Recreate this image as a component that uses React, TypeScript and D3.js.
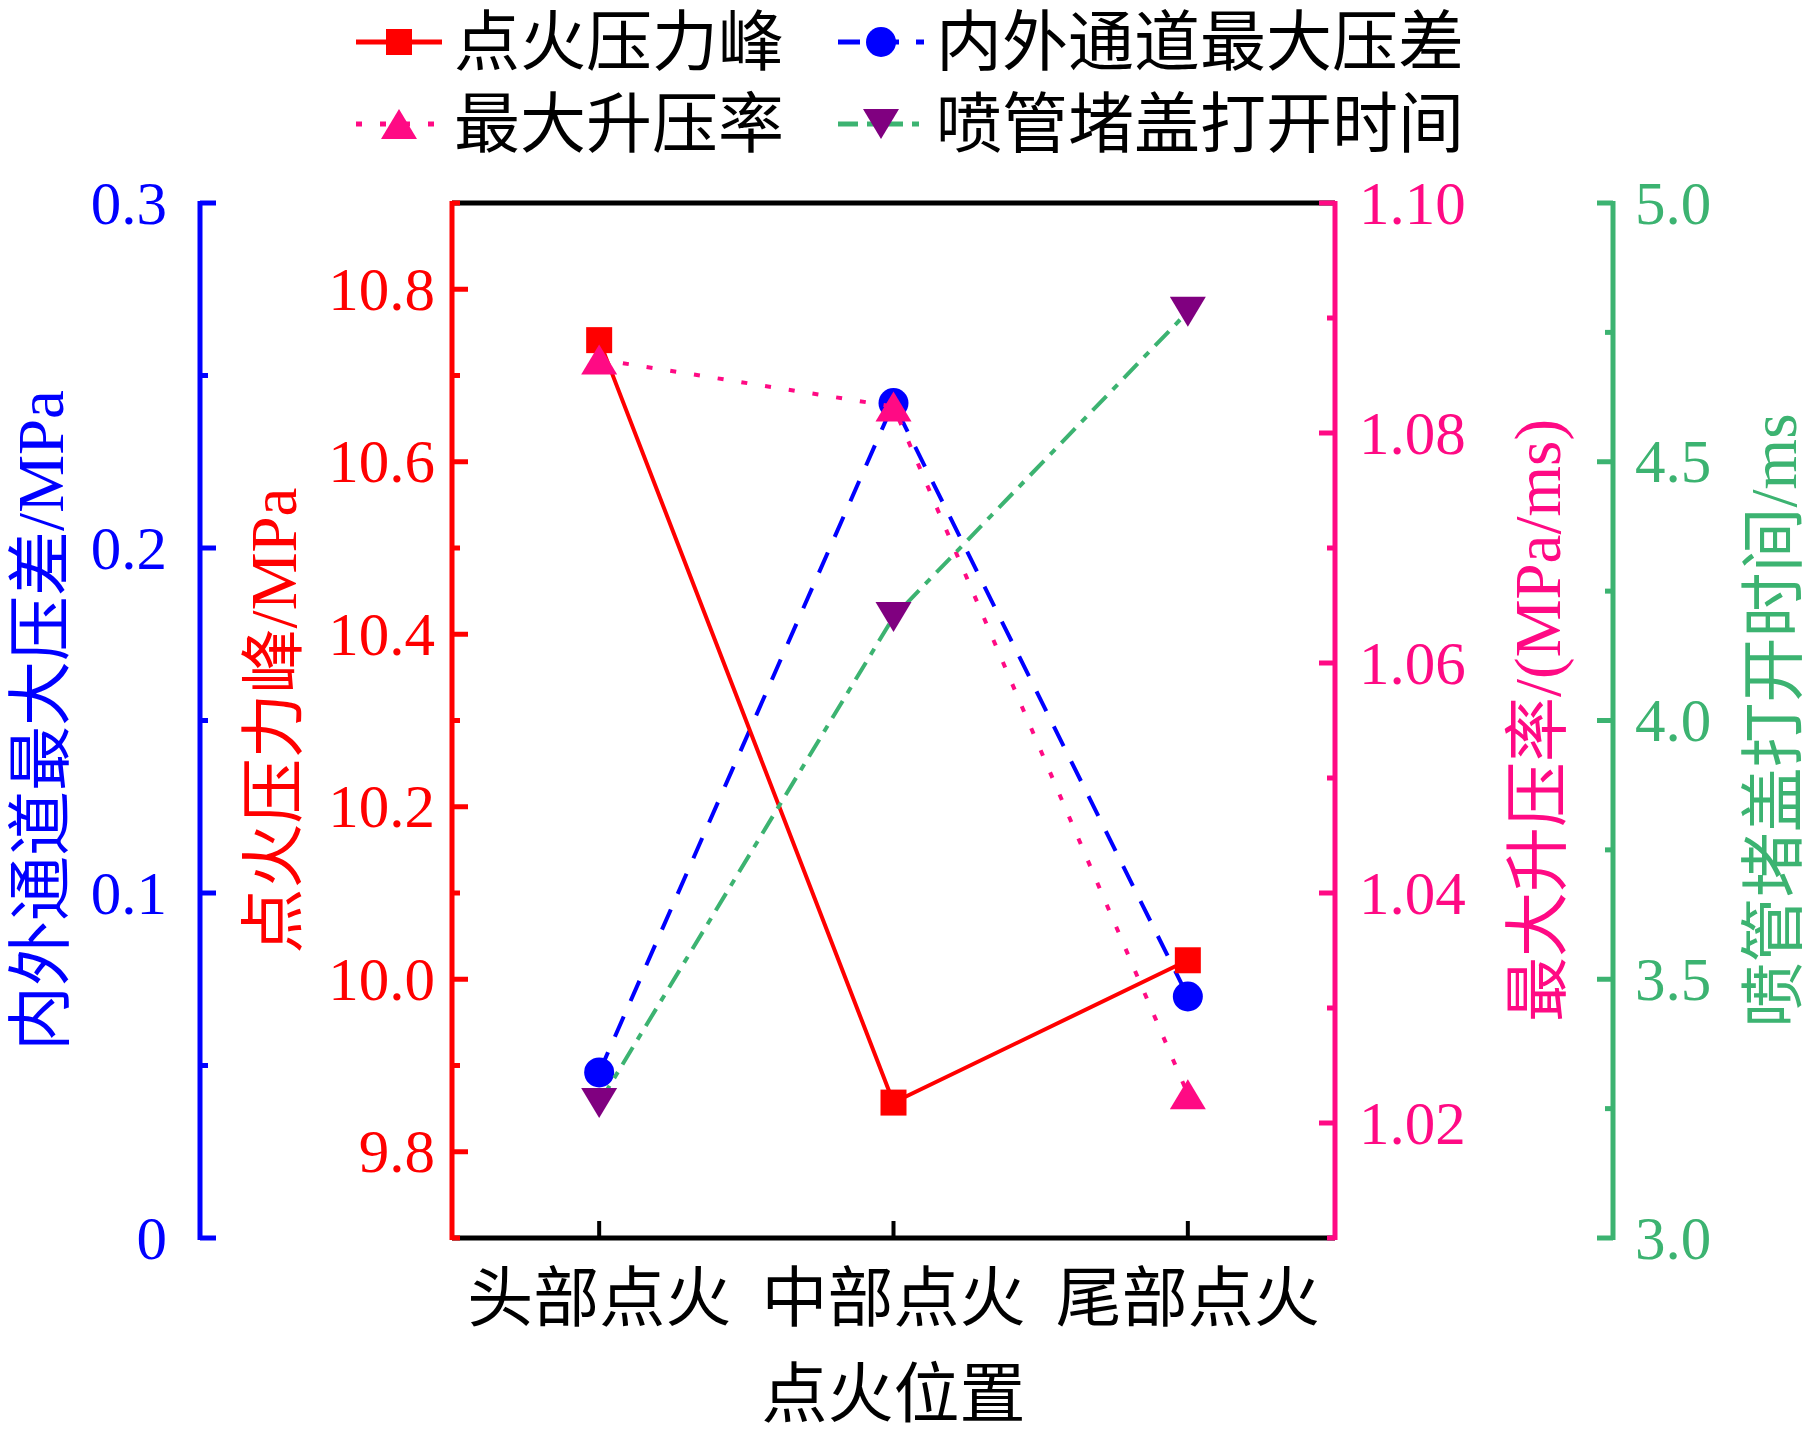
import * as d3 from 'd3';

const W = 1819;
const H = 1441;
const left = 452;
const right = 1335;
const top = 203;
const bottom = 1238;
const blueAxisX = 200;
const greenAxisX = 1613;

// data
const categories = ['头部点火', '中部点火', '尾部点火'];
const peakPressure = [10.741, 9.857, 10.022];
const maxDiff = [0.048, 0.242, 0.07];
const maxRate = [1.0864, 1.0823, 1.0225];
const openTime = [3.261, 4.2, 4.79];

// axis ticks
const diffTicks = [0, 0.1, 0.2, 0.3];
const diffMinor = [0.05, 0.15, 0.25];
const peakTicks = [9.8, 10.0, 10.2, 10.4, 10.6, 10.8];
const peakMinor = [9.7, 9.9, 10.1, 10.3, 10.5, 10.7, 10.9];
const rateTicks = [1.02, 1.04, 1.06, 1.08, 1.1];
const rateMinor = [1.01, 1.03, 1.05, 1.07, 1.09];
const timeTicks = [3.0, 3.5, 4.0, 4.5, 5.0];
const timeMinor = [3.25, 3.75, 4.25, 4.75];

const RED = '#ff0000';
const BLUE = '#0000ff';
const PINK = '#ff0a84';
const GREEN = '#3cb371';
const PURPLE = '#800080';

// Latin in Times-like serif, CJK falls back to Noto
const font = "'Liberation Serif', 'Noto Sans CJK SC', serif";

const x = d3.scalePoint<string>().domain(categories).range([left, right]).padding(0.5);
const yDiff = d3.scaleLinear().domain([0, 0.3]).range([bottom, top]);
const yPeak = d3.scaleLinear().domain([9.7, 10.9]).range([bottom, top]);
const yRate = d3.scaleLinear().domain([1.01, 1.1]).range([bottom, top]);
const yTime = d3.scaleLinear().domain([3, 5]).range([bottom, top]);

const square = d3.symbol().type(d3.symbolSquare).size(26 * 26)()!;
const circle = d3.symbol().type(d3.symbolCircle).size(Math.PI * 15 * 15)()!;
const triUp = 'M0,-15L18,15L-18,15Z';
const triDown = 'M0,15L18,-15L-18,-15Z';

const makeLine = (vals: number[], y: d3.ScaleLinear<number, number>) =>
  d3.line<number>().x((_, i) => x(categories[i])!).y((d) => y(d))(vals)!;

const VAxis = ({
  ax,
  scale,
  ticks,
  minor,
  color,
  dir,
  fmt,
  labelGap,
}: {
  ax: number;
  scale: d3.ScaleLinear<number, number>;
  ticks: number[];
  minor: number[];
  color: string;
  dir: 1 | -1;
  fmt: (v: number) => string;
  labelGap: number;
}) => (
  <g stroke={color} strokeWidth={5}>
    <line x1={ax} x2={ax} y1={top - 2} y2={bottom + 2} />
    {ticks.map((t) => (
      <line key={'M' + t} x1={ax} x2={ax + dir * 16} y1={scale(t)} y2={scale(t)} />
    ))}
    {minor.map((t) => (
      <line key={'m' + t} x1={ax} x2={ax + dir * 8} y1={scale(t)} y2={scale(t)} />
    ))}
    {ticks.map((t) => (
      <text
        key={'l' + t}
        x={ax - dir * labelGap}
        y={scale(t)}
        stroke="none"
        fill={color}
        fontFamily={font}
        fontSize={61}
        textAnchor={dir === 1 ? 'end' : 'start'}
        dominantBaseline="central"
      >
        {fmt(t)}
      </text>
    ))}
  </g>
);

const VTitle = ({ cx, text, color }: { cx: number; text: string; color: string }) => (
  <text
    transform={`translate(${cx},${(top + bottom) / 2}) rotate(-90)`}
    fill={color}
    fontFamily={font}
    fontSize={65}
    textAnchor="middle"
    dominantBaseline="central"
  >
    {text}
  </text>
);

const legendItems = [
  { label: '点火压力峰', color: RED, marker: square, fill: RED, dash: undefined, lx: 356, ly: 42 },
  { label: '内外通道最大压差', color: BLUE, marker: circle, fill: BLUE, dash: '22 17', lx: 838, ly: 42 },
  { label: '最大升压率', color: PINK, marker: triUp, fill: PINK, dash: '6 18', lx: 356, ly: 124 },
  { label: '喷管堵盖打开时间', color: GREEN, marker: triDown, fill: PURPLE, dash: '20 9 7 9', lx: 838, ly: 124 },
];

export default function App() {
  return (
    <svg width={W} height={H} style={{ position: 'absolute', left: 0, top: 0, background: '#fff' }}>
      {/* frame */}
      <line x1={left} x2={right} y1={top} y2={top} stroke="#000" strokeWidth={5} />
      <line x1={left} x2={right} y1={bottom} y2={bottom} stroke="#000" strokeWidth={5} />
      {categories.map((c) => (
        <line key={c} x1={x(c)} x2={x(c)} y1={bottom} y2={bottom - 17} stroke="#000" strokeWidth={4} />
      ))}
      {categories.map((c) => (
        <text key={'t' + c} x={x(c)} y={1298} fontFamily={font} fontSize={66} textAnchor="middle" dominantBaseline="central">
          {c}
        </text>
      ))}
      <text x={(left + right) / 2} y={1394} fontFamily={font} fontSize={66} textAnchor="middle" dominantBaseline="central">
        点火位置
      </text>

      <VAxis ax={blueAxisX} scale={yDiff} ticks={diffTicks} minor={diffMinor} color={BLUE} dir={1} fmt={(v) => (v === 0 ? '0' : v.toFixed(1))} labelGap={33} />
      <VAxis ax={left} scale={yPeak} ticks={peakTicks} minor={peakMinor} color={RED} dir={1} fmt={(v) => v.toFixed(1)} labelGap={17} />
      <VAxis ax={right} scale={yRate} ticks={rateTicks} minor={rateMinor} color={PINK} dir={-1} fmt={(v) => v.toFixed(2)} labelGap={24} />
      <VAxis ax={greenAxisX} scale={yTime} ticks={timeTicks} minor={timeMinor} color={GREEN} dir={-1} fmt={(v) => v.toFixed(1)} labelGap={22} />

      <VTitle cx={41} text="内外通道最大压差/MPa" color={BLUE} />
      <VTitle cx={274} text="点火压力峰/MPa" color={RED} />
      <VTitle cx={1538} text="最大升压率/(MPa/ms)" color={PINK} />
      <VTitle cx={1774} text="喷管堵盖打开时间/ms" color={GREEN} />

      {/* series */}
      <path d={makeLine(maxDiff, yDiff)} fill="none" stroke={BLUE} strokeWidth={4} strokeDasharray="22 17" />
      {maxDiff.map((v, i) => (
        <path key={'b' + i} d={circle} transform={`translate(${x(categories[i])},${yDiff(v)})`} fill={BLUE} />
      ))}
      <path d={makeLine(peakPressure, yPeak)} fill="none" stroke={RED} strokeWidth={4} />
      {peakPressure.map((v, i) => (
        <path key={'r' + i} d={square} transform={`translate(${x(categories[i])},${yPeak(v)})`} fill={RED} />
      ))}
      <path d={makeLine(maxRate, yRate)} fill="none" stroke={PINK} strokeWidth={4} strokeDasharray="6 18" />
      {maxRate.map((v, i) => (
        <path key={'p' + i} d={triUp} transform={`translate(${x(categories[i])},${yRate(v)})`} fill={PINK} />
      ))}
      <path d={makeLine(openTime, yTime)} fill="none" stroke={GREEN} strokeWidth={4} strokeDasharray="20 9 7 9" />
      {openTime.map((v, i) => (
        <path key={'g' + i} d={triDown} transform={`translate(${x(categories[i])},${yTime(v)})`} fill={PURPLE} />
      ))}

      {/* legend */}
      {legendItems.map((it) => (
        <g key={it.label}>
          <line x1={it.lx} x2={it.lx + 86} y1={it.ly} y2={it.ly} stroke={it.color} strokeWidth={5} strokeDasharray={it.dash} />
          <path d={it.marker} transform={`translate(${it.lx + 43},${it.ly})`} fill={it.fill} />
          <text x={it.lx + 98} y={it.ly} fontFamily={font} fontSize={66} dominantBaseline="central">
            {it.label}
          </text>
        </g>
      ))}
    </svg>
  );
}
